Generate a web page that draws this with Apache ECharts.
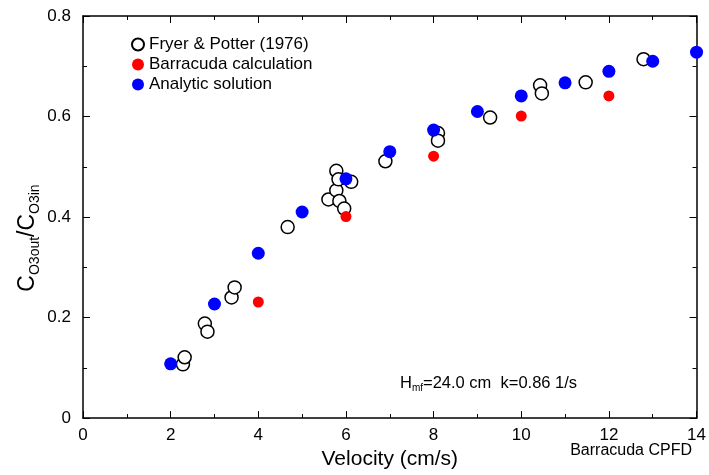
<!DOCTYPE html>
<html><head><meta charset="utf-8">
<script src="https://cdn.jsdelivr.net/npm/echarts@6/dist/echarts.min.js"></script>
<style>html,body{margin:0;padding:0;background:#fff}#c{width:709px;height:475px}</style>
</head><body><div id="c"></div>
<script>
// Fryer & Potter (1976) experimental points [velocity, ratio]
const fryerX = [2.28, 2.32, 2.78, 2.84, 3.39, 3.46, 4.67, 5.60, 5.78, 5.78, 5.83, 5.85, 5.96, 6.12, 6.90, 8.10, 8.10, 9.29, 10.43, 10.47, 11.47, 12.79];
const fryerY = [0.107, 0.121, 0.188, 0.172, 0.240, 0.260, 0.380, 0.435, 0.453, 0.492, 0.475, 0.432, 0.417, 0.470, 0.511, 0.567, 0.552, 0.598, 0.662, 0.646, 0.668, 0.714];
// Barracuda calculation
const barrX = [4, 6, 8, 10, 12];
const barrY = [0.231, 0.401, 0.521, 0.601, 0.641];
// Analytic solution
const anaX = [2, 3, 4, 5, 6, 7, 8, 9, 10, 11, 12, 13, 14];
const anaY = [0.108, 0.227, 0.328, 0.410, 0.476, 0.530, 0.573, 0.610, 0.641, 0.667, 0.690, 0.710, 0.728];
const xTicks = [0, 2, 4, 6, 8, 10, 12, 14];
const yTicks = [0, 0.2, 0.4, 0.6, 0.8];

const zip = (a, b) => a.map((v, i) => [v, b[i]]);
const font = '"Liberation Sans", Arial, sans-serif';
const chart = echarts.init(document.getElementById('c'));
const axisCommon = {
  axisLine: {show: true, onZero: false, lineStyle: {color: '#000', width: 1.5}},
  axisTick: {show: true, inside: true, length: 7, lineStyle: {color: '#000', width: 1}},
  minorTick: {show: true, splitNumber: 2, length: 4, lineStyle: {color: '#000', width: 1}},
  splitLine: {show: false}
};
chart.setOption({
  animation: false,
  backgroundColor: '#fff',
  textStyle: {fontFamily: font},
  grid: {left: 83, right: 11, top: 16, bottom: 55},
  xAxis: [
    Object.assign({type: 'value', min: 0, max: 14, interval: 2, position: 'bottom',
      name: 'Velocity (cm/s)', nameLocation: 'middle', nameGap: 28,
      nameTextStyle: {fontSize: 21, color: '#000', fontFamily: font},
      axisLabel: {fontSize: 17, color: '#000', margin: 9, fontFamily: font,
        formatter: v => xTicks.includes(v) ? String(v) : ''}}, axisCommon),
    Object.assign({type: 'value', min: 0, max: 14, interval: 2, position: 'top',
      axisLabel: {show: false}}, axisCommon)
  ],
  yAxis: [
    Object.assign({type: 'value', min: 0, max: 0.8, interval: 0.2, position: 'left',
      axisLabel: {fontSize: 17, color: '#000', margin: 12, fontFamily: font,
        formatter: v => { const t = yTicks.find(k => Math.abs(k - v) < 1e-9); return t === undefined ? '' : (t === 0 ? '0' : t.toFixed(1)); }}}, axisCommon),
    Object.assign({type: 'value', min: 0, max: 0.8, interval: 0.2, position: 'right',
      axisLabel: {show: false}}, axisCommon)
  ],
  legend: {
    orient: 'vertical', left: 126, top: 31, itemGap: 3, itemWidth: 12, itemHeight: 12,
    textStyle: {fontSize: 17, color: '#000', fontFamily: font},
    data: [
      {name: 'Fryer & Potter (1976)', icon: 'circle'},
      {name: 'Barracuda calculation', icon: 'circle'},
      {name: 'Analytic solution', icon: 'circle'}
    ]
  },
  series: [
    {name: 'Fryer & Potter (1976)', type: 'scatter', symbol: 'circle', symbolSize: 13,
      itemStyle: {color: '#fff', borderColor: '#000', borderWidth: 1.5, opacity: 1},
      data: zip(fryerX, fryerY), z: 2},
    {name: 'Barracuda calculation', type: 'scatter', symbol: 'circle', symbolSize: 11,
      itemStyle: {color: '#ff0000', opacity: 1}, data: zip(barrX, barrY), z: 3},
    {name: 'Analytic solution', type: 'scatter', symbol: 'circle', symbolSize: 13,
      itemStyle: {color: '#0000ff', opacity: 1}, data: zip(anaX, anaY), z: 4}
  ],
  graphic: [
    {type: 'text', x: 28, y: 238, rotation: Math.PI / 2, style: {
      text: '{c|C}{s|O3out}{c|/C}{s|O3in}', align: 'center', verticalAlign: 'middle', fill: '#000',
      rich: {c: {fontSize: 23, fontFamily: font, fill: '#000', lineHeight: 28, verticalAlign: 'middle'},
             s: {fontSize: 14, fontFamily: font, fill: '#000', lineHeight: 14, verticalAlign: 'bottom'}}}},
    {type: 'text', left: 400, top: 375, style: {
      text: '{n|H}{s|mf}{n|=24.0 cm  k=0.86 1/s}', fill: '#000',
      rich: {n: {fontSize: 16.5, fontFamily: font, fill: '#000', lineHeight: 20, verticalAlign: 'middle'},
             s: {fontSize: 10, fontFamily: font, fill: '#000', lineHeight: 10, verticalAlign: 'bottom'}}}},
    {type: 'text', right: 17, top: 443, style: {text: 'Barracuda CPFD', fontSize: 16, fontFamily: font, fill: '#000'}}
  ]
});
</script></body></html>
